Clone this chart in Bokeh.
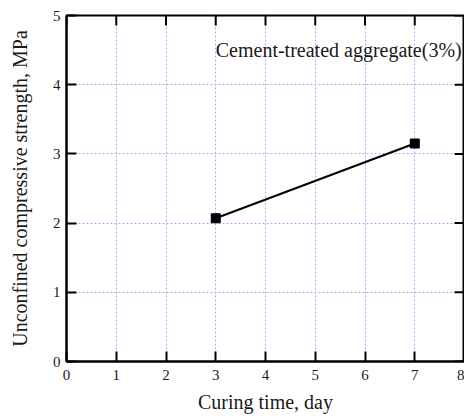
import math
from bokeh.plotting import figure
from bokeh.models import Range1d, FixedTicker, Label
from bokeh.embed import file_html
from bokeh.resources import INLINE

# Data
curing_days = [3, 7]
strength_mpa = [2.07, 3.15]
x_ticks = [0, 1, 2, 3, 4, 5, 6, 7, 8]
y_ticks = [0, 1, 2, 3, 4, 5]
annotation = "Cement-treated aggregate(3%)"

FONT = "Liberation Serif"
TXT = "#1a1a1a"

p = figure(width=464, height=419, output_backend="svg", toolbar_location=None,
           x_range=Range1d(x_ticks[0], x_ticks[-1]), y_range=Range1d(y_ticks[0], y_ticks[-1]),
           min_border_left=66, min_border_right=0, min_border_top=15, min_border_bottom=58,
           x_axis_label="Curing time, day",
           y_axis_label="Unconfined compressive strength, MPa")
p.outline_line_color = "black"
p.outline_line_width = 2
p.background_fill_color = "white"
p.border_fill_color = "white"

for ax, ticks in ((p.xaxis[0], x_ticks), (p.yaxis[0], y_ticks)):
    ax.ticker = FixedTicker(ticks=ticks)
    ax.major_tick_in = 10
    ax.major_tick_out = 0
    ax.major_tick_line_width = 2
    ax.major_tick_line_color = "black"
    ax.minor_tick_line_color = None
    ax.axis_line_width = 2
    ax.major_label_text_font = FONT
    ax.major_label_text_font_size = "15px"
    ax.axis_label_text_font = FONT
    ax.axis_label_text_font_size = "20px"
    ax.axis_label_text_font_style = "normal"
    ax.major_label_text_color = TXT
    ax.axis_label_text_color = TXT

p.xaxis[0].major_label_standoff = 8
p.xaxis[0].axis_label_standoff = 8
p.yaxis[0].major_label_standoff = 6
p.yaxis[0].axis_label_standoff = 19

p.xgrid.ticker = FixedTicker(ticks=x_ticks)
p.ygrid.ticker = FixedTicker(ticks=y_ticks)
p.grid.grid_line_color = "#a8a8ff"
p.grid.grid_line_dash = "2 2"
p.grid.grid_line_width = 1

# Inward tick marks on the top and right edges (half of each dash is clipped by the frame)
n_x = len(x_ticks)
n_y = len(y_ticks)
tick_style = dict(marker="dash", size=20, line_color="black", line_width=2)
p.scatter(x_ticks, [y_ticks[-1]] * n_x, angle=math.pi / 2, **tick_style)
p.scatter([x_ticks[-1]] * n_y, y_ticks, **tick_style)

p.line(curing_days, strength_mpa, line_color="black", line_width=2)
p.scatter(curing_days, strength_mpa, marker="square", size=9, fill_color="black", line_color="black")

p.add_layout(Label(x=3, y=4.5, text=annotation, text_font=FONT, text_font_size="20px",
                   text_baseline="middle", text_align="left", text_color=TXT))

open("out.html", "w").write(file_html(p, INLINE))
